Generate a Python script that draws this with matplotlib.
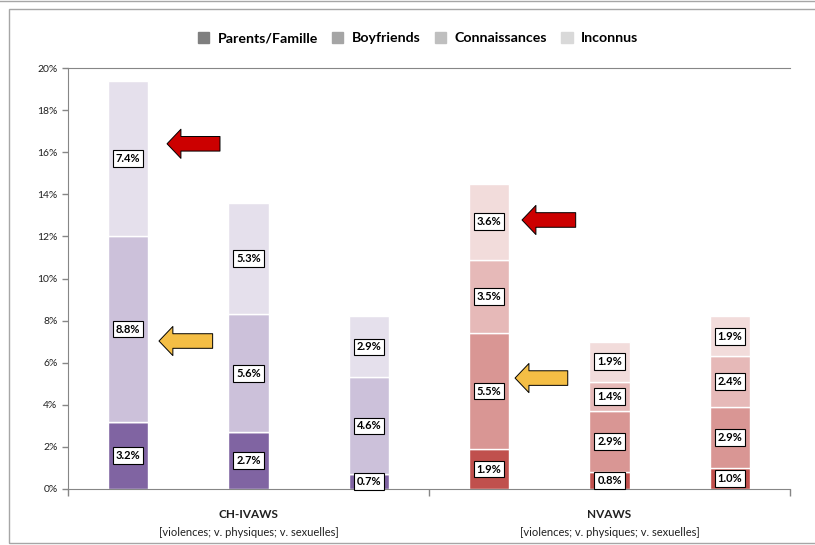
import matplotlib
matplotlib.use('Agg')
import matplotlib.pyplot as plt
from matplotlib.patches import Patch, Rectangle
from matplotlib.lines import Line2D
import numpy as np

plt.rcParams['font.family'] = ['Lato', 'DejaVu Sans']

# data (% of women), one bar per type of violence
bars = ['violences', 'v. physiques', 'v. sexuelles'] * 2
groups = ['CH-IVAWS', 'NVAWS']
group_sub = '[violences; v. physiques; v. sexuelles]'
series = ['Parents/Famille', 'Boyfriends', 'Connaissances', 'Inconnus']
parents = [3.2, 2.7, 0.7, 1.9, 0.8, 1.0]
boyfriends = [0.0, 0.0, 0.0, 5.5, 2.9, 2.9]
connaissances = [8.8, 5.6, 4.6, 3.5, 1.4, 2.4]
inconnus = [7.4, 5.3, 2.9, 3.6, 1.9, 1.9]

purple = ['#8064A2', '#B3A2C7', '#CCC1DA', '#E5E0EC']
red = ['#C0504D', '#D99694', '#E6B9B8', '#F2DCDB']
legend_gray = ['#7F7F7F', '#A5A5A5', '#BFBFBF', '#D9D9D9']

fig = plt.figure(figsize=(8.15, 5.45), dpi=100)
ax = fig.add_axes([68/815, 1-489/545, 722/815, 421/545])

x = np.arange(len(bars))
bar_colors = [purple]*3 + [red]*3
values = [parents, boyfriends, connaissances, inconnus]
bottom = np.zeros(len(bars))
for s in range(4):
    v = np.array(values[s])
    cols = [bar_colors[i][s] for i in range(len(bars))]
    ax.bar(x, v, 0.333, bottom=bottom, color=cols, edgecolor='white', linewidth=1)
    for i in range(len(bars)):
        if v[i] > 0:
            ax.text(x[i], bottom[i] + v[i]/2, '%.1f%%' % v[i], ha='center', va='center',
                    fontsize=8, fontweight='bold',
                    bbox=dict(boxstyle='square,pad=0.25', fc='white', ec='black', lw=0.8))
    bottom += v

# arrows
arrows = [((0.323, 16.4), (0.763, 16.4), '#CC0000'),
          ((0.256, 7.03), (0.702, 7.03), '#F4BE45'),
          ((3.273, 12.78), (3.719, 12.78), '#CC0000'),
          ((3.215, 5.27), (3.653, 5.27), '#F4BE45')]
for tip, tail, c in arrows:
    ax.annotate('', xy=tip, xytext=tail,
                arrowprops=dict(arrowstyle='simple,head_length=10,head_width=21,tail_width=10.5',
                                mutation_scale=1, fc=c, ec='black', lw=0.7,
                                shrinkA=0, shrinkB=0))

ax.set_xlim(-0.5, 5.5)
ax.set_ylim(0, 20)
ax.set_yticks(np.arange(0, 21, 2))
ax.set_yticklabels(['%d%%' % t for t in range(0, 21, 2)], fontsize=7.5)
ax.set_xticks([-0.5, 2.5, 5.5])
ax.set_xticklabels([])
ax.tick_params(axis='both', colors='#868686', labelcolor='#202020', length=4, width=1)
ax.tick_params(axis='x', length=5)
for sp in ['left', 'bottom', 'top']:
    ax.spines[sp].set_color('#868686')
ax.spines['right'].set_visible(False)

for g in range(2):
    xc = 1 + 3*g
    ax.text(xc, -0.060, groups[g], transform=ax.get_xaxis_transform(), ha='center', va='center',
            fontsize=8.5, fontweight='bold', color='#202020')
    ax.text(xc, -0.103, group_sub, transform=ax.get_xaxis_transform(), ha='center', va='center',
            fontsize=8, color='#202020')

handles = [Patch(color=legend_gray[i], label=series[i]) for i in range(4)]
fig.legend(handles=handles, loc='center', bbox_to_anchor=(418/815, 1-38/545), ncol=4,
           frameon=False, prop={'size': 10.2, 'weight': 'bold'}, handlelength=0.8, handleheight=0.8,
           handletextpad=0.6, columnspacing=1.0)

# chart frame
fig.add_artist(Rectangle((9/815, 2/545), 1.0, 534/545, transform=fig.transFigure,
                         fill=False, ec='#A6A6A6', lw=1))
fig.add_artist(Line2D([0, 1], [1-1/545, 1-1/545], transform=fig.transFigure, color='#A6A6A6', lw=1))

fig.savefig('out.png', dpi=100)
